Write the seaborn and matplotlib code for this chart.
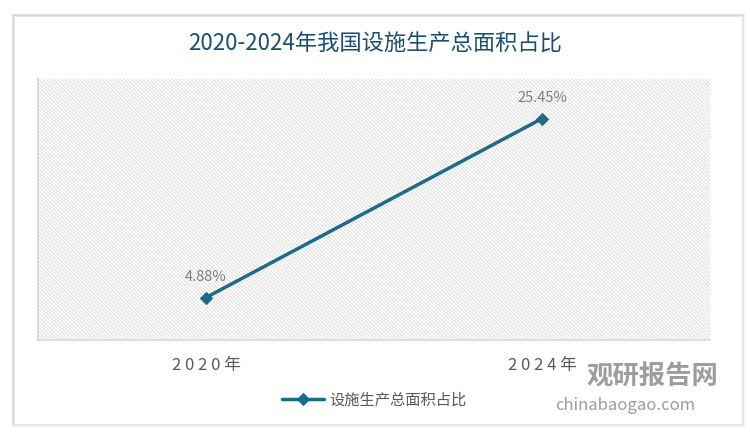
import matplotlib
matplotlib.use("Agg")
import matplotlib.pyplot as plt
from matplotlib.patches import Rectangle
import seaborn as sns
import pandas as pd

years = ["2020年", "2024年"]
values = [4.88, 25.45]
labels = ["4.88%", "25.45%"]
series_name = "设施生产总面积占比"
title = "2020-2024年我国设施生产总面积占比"

sns.set_theme(style="white")
plt.rcParams['font.family'] = ['Noto Sans CJK SC', 'DejaVu Sans']
plt.rcParams['hatch.linewidth'] = 0.6
plt.rcParams['hatch.color'] = '#dadada'

W, H = 750, 441
fig = plt.figure(figsize=(7.5, 4.41), dpi=100)
fig.patch.set_facecolor('white')

# card with shadow
for i, a in enumerate([0.04, 0.06, 0.08]):
    off = 3 - i
    fig.patches.append(Rectangle(((14 - off) / W, 1 - (424 + off) / H), (728 + 2 * off) / W, (408 + 2 * off) / H,
                                 transform=fig.transFigure, facecolor='#000000', alpha=a, edgecolor='none', zorder=-3))
fig.patches.append(Rectangle((14 / W, 1 - 424 / H), 728 / W, 408 / H, transform=fig.transFigure,
                             facecolor='white', edgecolor='#e6e6e6', linewidth=0.8, zorder=-2))

ax = fig.add_axes([38 / W, 1 - 340 / H, 672 / W, 261 / H])
ax.set_facecolor('none')

df = pd.DataFrame({"year": years, "value": values})
ax.add_patch(Rectangle((0, 0), 1, 1, transform=ax.transAxes, facecolor='white',
                       hatch='\\' * 9, edgecolor='#dadada', linewidth=0, zorder=0))

color = '#1d6a8b'
sns.lineplot(data=df, x="year", y="value", ax=ax, color=color, linewidth=2.5,
             marker='D', markersize=6, markeredgecolor=color, label=series_name, sort=False, zorder=3)

ax.set_xlim(-0.5, 1.5)
ax.set_ylim(0, 30)
ax.set_yticks([])
ax.set_xlabel("")
ax.set_ylabel("")
for s in ['top', 'right']:
    ax.spines[s].set_visible(False)
ax.spines['left'].set_color('#d9d9d9')
ax.spines['bottom'].set_color('#d9d9d9')
ax.spines['left'].set_linewidth(1.5)
ax.spines['bottom'].set_linewidth(1.2)
ax.tick_params(axis='x', length=0, pad=12, labelsize=12, labelcolor='#595959')
ax.set_xticks(range(len(years)))
ax.set_xticklabels([" ".join(y[:4]) + " " + y[4:] for y in years])

for i, (v, t) in enumerate(zip(values, labels)):
    ax.annotate(t, (i, v), xytext=(0, 10), textcoords='offset points', ha='center', va='bottom',
                fontsize=10.5, color='#7f7f7f')

leg = ax.legend(loc='center', bbox_to_anchor=(0.5, -60 / 261), frameon=False, fontsize=11,
                handlelength=2.8, handletextpad=0.3)
for t in leg.get_texts():
    t.set_color('#595959')

fig.text(375 / W, 1 - 44 / H, title, ha='center', va='center', fontsize=16, color='#1b4f72')

# watermark
fig.text(652 / W, 1 - 377 / H, "观研报告网", ha='center', va='center', fontsize=19, color='#8c8c8c',
         fontweight='bold', alpha=0.85, zorder=10)
fig.text(625 / W, 1 - 406 / H, "chinabaogao.com", ha='center', va='center', fontsize=12, color='#8c8c8c',
         alpha=0.85, zorder=10)

fig.savefig("out.png", dpi=100)
